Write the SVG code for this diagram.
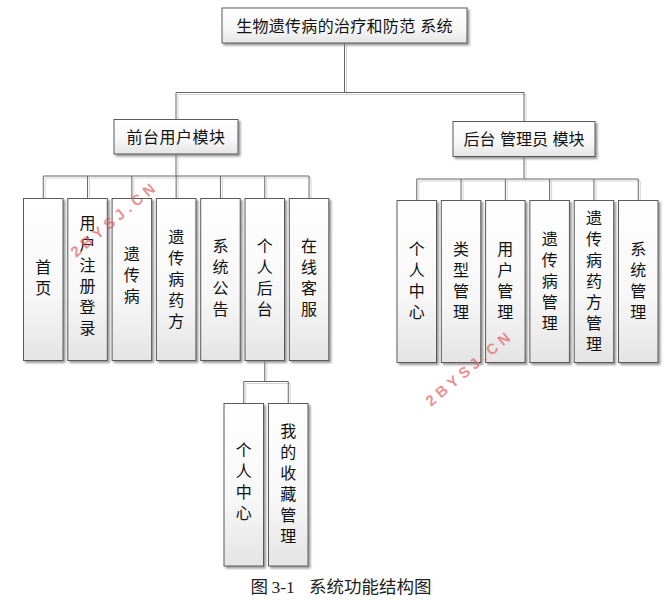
<svg xmlns="http://www.w3.org/2000/svg" width="671" height="606" viewBox="0 0 671 606">
<defs>
<linearGradient id="boxfill" x1="0" y1="0" x2="0" y2="1">
<stop offset="0" stop-color="#ffffff"/>
<stop offset="0.6" stop-color="#f7f7f7"/>
<stop offset="1" stop-color="#e4e4e4"/>
</linearGradient>
<filter id="shadow" x="-20%" y="-20%" width="140%" height="140%">
<feDropShadow dx="2" dy="2" stdDeviation="0.8" flood-color="#808080" flood-opacity="0.8"/>
</filter>
</defs>
<style>
.box{fill:url(#boxfill);stroke:#5a5a5a;stroke-width:1;filter:url(#shadow)}
.t{font-family:"Liberation Sans","Noto Sans CJK SC",sans-serif;font-size:16px;fill:#111;text-anchor:middle}
.line{fill:none;stroke:#666;stroke-width:1}
.lshadow{fill:none;stroke:#d4d4d4;stroke-width:1}
.wm{font-family:"Liberation Sans","Noto Sans CJK SC",sans-serif;font-size:15px;font-weight:bold;fill:#e06060;fill-opacity:0.7;letter-spacing:4.5px}
.cap{font-family:"Liberation Serif","Noto Sans CJK SC",serif;font-size:17.5px;fill:#222}
</style>
<rect width="671" height="606" fill="#ffffff"/>

<g id="connectors">
<path class="lshadow" transform="translate(2,2)" d="M344.5,43V92.5M176,92.5H524M176,92.5V119.5M524,92.5V121.5M176,154V176M43.25,176H309.05M43.25,176V198.5M87.55,176V198.5M131.85,176V198.5M176.15,176V198.5M220.45,176V198.5M264.75,176V198.5M309.05,176V198.5M524,156.5V179M416.75,179H638.25M416.75,179V200.5M461.05,179V200.5M505.35,179V200.5M549.65,179V200.5M593.95,179V200.5M638.25,179V200.5M264.75,360.5V381.5M243.75,381.5H288.25M243.75,381.5V403.5M288.25,381.5V403.5"/>
<path class="line" d="M344.5,43V92.5M176,92.5H524M176,92.5V119.5M524,92.5V121.5M176,154V176M43.25,176H309.05M43.25,176V198.5M87.55,176V198.5M131.85,176V198.5M176.15,176V198.5M220.45,176V198.5M264.75,176V198.5M309.05,176V198.5M524,156.5V179M416.75,179H638.25M416.75,179V200.5M461.05,179V200.5M505.35,179V200.5M549.65,179V200.5M593.95,179V200.5M638.25,179V200.5M264.75,360.5V381.5M243.75,381.5H288.25M243.75,381.5V403.5M288.25,381.5V403.5"/>
</g>

<g id="root">
<rect class="box" x="222" y="8" width="245" height="35"/>
<text class="t" x="344.5" y="31.5" font-size="16.5" letter-spacing="0.3">生物遗传病的治疗和防范 系统</text>
</g>
<g id="front">
<rect class="box" x="114" y="119.5" width="124" height="34.5"/>
<text class="t" x="176" y="142.5" font-size="16.5" letter-spacing="0.5">前台用户模块</text>
</g>
<g id="back">
<rect class="box" x="453" y="121.5" width="142" height="35"/>
<text class="t" x="524" y="145" font-size="16.5">后台 管理员 模块</text>
</g>

<g id="f-home">
<rect class="box" x="23.5" y="198.5" width="39.5" height="162"/>
<text class="t"><tspan x="43.25" y="273.1">首</tspan><tspan x="43.25" dy="21">页</tspan></text>
</g>
<g id="f-register">
<rect class="box" x="67.8" y="198.5" width="39.5" height="162"/>
<text class="t"><tspan x="87.55" y="229.1">用</tspan><tspan x="87.55" dy="21">户</tspan><tspan x="87.55" dy="21">注</tspan><tspan x="87.55" dy="21">册</tspan><tspan x="87.55" dy="21">登</tspan><tspan x="87.55" dy="21">录</tspan></text>
</g>
<g id="f-disease">
<rect class="box" x="112.1" y="198.5" width="39.5" height="162"/>
<text class="t"><tspan x="131.85" y="259.6">遗</tspan><tspan x="131.85" dy="21">传</tspan><tspan x="131.85" dy="21">病</tspan></text>
</g>
<g id="f-prescription">
<rect class="box" x="156.4" y="198.5" width="39.5" height="162"/>
<text class="t"><tspan x="176.15" y="242.6">遗</tspan><tspan x="176.15" dy="21">传</tspan><tspan x="176.15" dy="21">病</tspan><tspan x="176.15" dy="21">药</tspan><tspan x="176.15" dy="21">方</tspan></text>
</g>
<g id="f-notice">
<rect class="box" x="200.7" y="198.5" width="39.5" height="162"/>
<text class="t"><tspan x="220.45" y="252.4">系</tspan><tspan x="220.45" dy="21">统</tspan><tspan x="220.45" dy="21">公</tspan><tspan x="220.45" dy="21">告</tspan></text>
</g>
<g id="f-personal">
<rect class="box" x="245" y="198.5" width="39.5" height="162"/>
<text class="t"><tspan x="264.75" y="252.4">个</tspan><tspan x="264.75" dy="21">人</tspan><tspan x="264.75" dy="21">后</tspan><tspan x="264.75" dy="21">台</tspan></text>
</g>
<g id="f-service">
<rect class="box" x="289.3" y="198.5" width="39.5" height="162"/>
<text class="t"><tspan x="309.05" y="252.4">在</tspan><tspan x="309.05" dy="21">线</tspan><tspan x="309.05" dy="21">客</tspan><tspan x="309.05" dy="21">服</tspan></text>
</g>

<g id="p-center">
<rect class="box" x="224" y="403.5" width="39.5" height="162.5"/>
<text class="t"><tspan x="243.75" y="455.6">个</tspan><tspan x="243.75" dy="21">人</tspan><tspan x="243.75" dy="21">中</tspan><tspan x="243.75" dy="21">心</tspan></text>
</g>
<g id="p-favorites">
<rect class="box" x="268.5" y="403.5" width="39.5" height="162.5"/>
<text class="t"><tspan x="288.25" y="436.8">我</tspan><tspan x="288.25" dy="21">的</tspan><tspan x="288.25" dy="21">收</tspan><tspan x="288.25" dy="21">藏</tspan><tspan x="288.25" dy="21">管</tspan><tspan x="288.25" dy="21">理</tspan></text>
</g>

<g id="b-center">
<rect class="box" x="397" y="200.5" width="39.5" height="162"/>
<text class="t"><tspan x="416.75" y="255.1">个</tspan><tspan x="416.75" dy="21">人</tspan><tspan x="416.75" dy="21">中</tspan><tspan x="416.75" dy="21">心</tspan></text>
</g>
<g id="b-type">
<rect class="box" x="441.3" y="200.5" width="39.5" height="162"/>
<text class="t"><tspan x="461.05" y="255.1">类</tspan><tspan x="461.05" dy="21">型</tspan><tspan x="461.05" dy="21">管</tspan><tspan x="461.05" dy="21">理</tspan></text>
</g>
<g id="b-user">
<rect class="box" x="485.6" y="200.5" width="39.5" height="162"/>
<text class="t"><tspan x="505.35" y="255.1">用</tspan><tspan x="505.35" dy="21">户</tspan><tspan x="505.35" dy="21">管</tspan><tspan x="505.35" dy="21">理</tspan></text>
</g>
<g id="b-disease">
<rect class="box" x="529.9" y="200.5" width="39.5" height="162"/>
<text class="t"><tspan x="549.65" y="244.6">遗</tspan><tspan x="549.65" dy="21">传</tspan><tspan x="549.65" dy="21">病</tspan><tspan x="549.65" dy="21">管</tspan><tspan x="549.65" dy="21">理</tspan></text>
</g>
<g id="b-prescription">
<rect class="box" x="574.2" y="200.5" width="39.5" height="162"/>
<text class="t"><tspan x="593.95" y="223.6">遗</tspan><tspan x="593.95" dy="21">传</tspan><tspan x="593.95" dy="21">病</tspan><tspan x="593.95" dy="21">药</tspan><tspan x="593.95" dy="21">方</tspan><tspan x="593.95" dy="21">管</tspan><tspan x="593.95" dy="21">理</tspan></text>
</g>
<g id="b-system">
<rect class="box" x="618.5" y="200.5" width="39.5" height="162"/>
<text class="t"><tspan x="638.25" y="255.1">系</tspan><tspan x="638.25" dy="21">统</tspan><tspan x="638.25" dy="21">管</tspan><tspan x="638.25" dy="21">理</tspan></text>
</g>

<text class="wm" transform="translate(76,258) rotate(-40)">2BYSJ.CN</text>
<text class="wm" transform="translate(431,407) rotate(-40)">2BYSJ.CN</text>

<text class="cap" y="593"><tspan x="250.5">图</tspan><tspan x="271.5">3-1</tspan><tspan x="309">系统功能结构图</tspan></text>
</svg>
